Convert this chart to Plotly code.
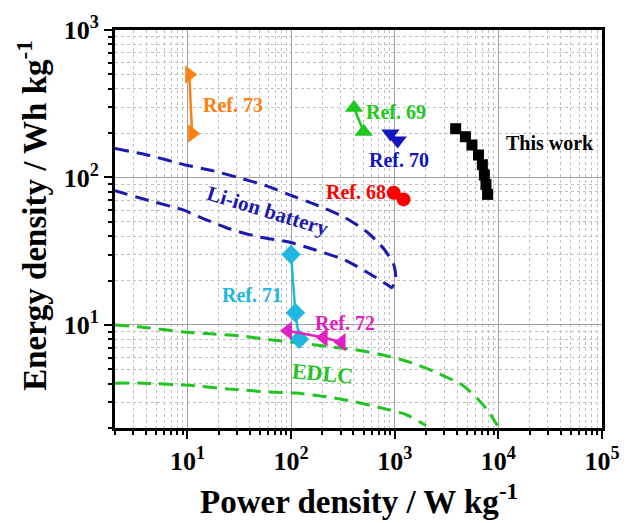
import plotly.graph_objects as go
import numpy as np

# ---------------- data ----------------
this_work_p = [3873, 4808, 5560, 6430, 7010, 7330, 7590, 7870]
this_work_e = [214, 189, 166, 142, 122, 104, 89.6, 76.8]

ref68_p = [979, 1216]
ref68_e = [78.7, 71]

ref69_p = [404, 502]
ref69_e = [297, 204]

ref70_p = [910, 1067]
ref70_e = [199, 178]

ref71_p = [100, 110, 120]
ref71_e = [30, 12.1, 8.0]

ref72_p = [93, 206, 307]
ref72_e = [9.12, 8.22, 7.62]

ref73_p = [10.4, 11.1]
ref73_e = [500, 199]

liion_p = [2.0, 4.29, 9.8, 16.8, 32.3, 58, 95.7, 172, 330, 545, 788, 980, 1021, 937,
           841, 594, 330, 172, 95.7, 49.9, 26, 14.8, 8.8, 4.29, 2.0]
liion_e = [157, 141, 121, 112, 99, 87.7, 76.4, 65.5, 53.6, 42.5, 32.7, 25.6, 20.6, 17.9,
           18.8, 21.9, 27.6, 32.2, 36.5, 39.4, 44.6, 52, 60.7, 69.6, 81.3]

edlc_up_p = [2.0, 4.29, 8.8, 16.8, 32.3, 62, 111, 228, 410, 738, 1416, 2490, 4480, 6470, 8050, 9790]
edlc_up_e = [10, 9.55, 8.98, 8.7, 8.44, 7.94, 7.59, 7.13, 6.8, 6.3, 5.57, 4.78, 3.91, 3.1, 2.58, 2.08]

edlc_lo_p = [2.0, 3.68, 9.6, 26, 62, 111, 228, 410, 738, 1297, 2004]
edlc_lo_e = [4.03, 4.03, 3.91, 3.67, 3.51, 3.45, 3.25, 3.01, 2.74, 2.46, 2.08]

x_ticks = [10, 100, 1000, 10000, 100000]
x_ticktext = ["10<sup>1</sup>", "10<sup>2</sup>", "10<sup>3</sup>", "10<sup>4</sup>", "10<sup>5</sup>"]
y_ticks = [10, 100, 1000]
y_ticktext = ["10<sup>1</sup>", "10<sup>2</sup>", "10<sup>3</sup>"]

# labels: (text, log10 x, log10 y, colour, angle)
labels = [
    ("Ref. 73", 1.443, 2.492, "#ff8010", 0),
    ("Ref. 69", 3.009, 2.445, "#1ec81e", 0),
    ("Ref. 70", 3.038, 2.117, "#1414c0", 0),
    ("Ref. 68", 2.623, 1.903, "#ff0000", 0),
    ("This work", 4.50, 2.231, "#000000", 0),
    ("Ref. 71", 1.623, 1.201, "#20b8e0", 0),
    ("Ref. 72", 2.519, 1.013, "#e020c0", 0),
    ("EDLC", 2.30, 0.672, "#22c422", 5),
    ("Li-ion battery", 1.78, 1.775, "#1a1ab0", 17),
]

FONT = "Liberation Serif"

fig = go.Figure()

fig.add_trace(go.Scatter(x=liion_p, y=liion_e, mode="lines",
                         line=dict(color="#1a1ab0", width=3, dash="14px,8px", shape="spline", smoothing=0.6)))
fig.add_trace(go.Scatter(x=edlc_up_p, y=edlc_up_e, mode="lines",
                         line=dict(color="#22c422", width=3, dash="14px,8px", shape="spline", smoothing=0.6)))
fig.add_trace(go.Scatter(x=edlc_lo_p, y=edlc_lo_e, mode="lines",
                         line=dict(color="#22c422", width=3, dash="14px,8px", shape="spline", smoothing=0.6)))

def series(xs, ys, color, symbol, size):
    fig.add_trace(go.Scatter(x=xs, y=ys, mode="lines+markers",
                             line=dict(color=color, width=2.5),
                             marker=dict(color=color, symbol=symbol, size=size, line=dict(width=0))))

series(ref73_p, ref73_e, "#ff8010", "triangle-right", 16)
series(ref69_p, ref69_e, "#1ec81e", "triangle-up", 16)
series(ref70_p, ref70_e, "#1414c0", "triangle-down", 16)
series(ref68_p, ref68_e, "#ff0000", "circle", 14)
series(this_work_p, this_work_e, "#000000", "square", 11)
series(ref71_p, ref71_e, "#20b8e0", "diamond", 15)
series(ref72_p, ref72_e, "#e020c0", "triangle-left", 16)

annotations = []
for text, lx, ly, col, ang in labels:
    annotations.append(dict(text=text, x=lx, y=ly, xref="x", yref="y", showarrow=False,
                            textangle=ang,
                            font=dict(family=FONT, size=20, color=col, weight="bold")))
annotations[-1]["font"]["size"] = 21
annotations[-2]["font"]["size"] = 22

annotations.append(dict(text="<b>Power density / W kg<sup>-1</sup></b>", x=0.50, y=-0.178,
                        xref="paper", yref="paper", showarrow=False, xanchor="center", yanchor="middle",
                        font=dict(family=FONT, size=33, color="black")))
annotations.append(dict(text="<b>Energy density / Wh kg<sup>-1</sup></b>", x=-0.171, y=0.535,
                        xref="paper", yref="paper", showarrow=False, xanchor="center", yanchor="middle",
                        textangle=-90,
                        font=dict(family=FONT, size=33, color="black")))

minor_vals = [k * 10 ** n for n in range(0, 5) for k in range(2, 10)]

axis_common = dict(
    type="log", showline=True, linecolor="black", linewidth=3, mirror=True,
    ticks="outside", ticklen=8, tickwidth=2, tickcolor="black",
    showgrid=True, gridcolor="#a0a0a0", gridwidth=1,
    tickfont=dict(family=FONT, size=26, color="black", weight="bold"),
    zeroline=False,
    minor=dict(tickmode="array", tickvals=minor_vals, ticks="outside", ticklen=4, tickwidth=2,
               tickcolor="black", showgrid=True, gridcolor="#c0c0c0", griddash="dot", gridwidth=1),
)

fig.update_xaxes(**axis_common, range=[np.log10(2), 5], tickmode="array",
                 tickvals=x_ticks, ticktext=x_ticktext)
fig.update_yaxes(**axis_common, range=[np.log10(2), 3], tickmode="array",
                 tickvals=y_ticks, ticktext=y_ticktext)

fig.update_layout(
    width=632, height=523,
    margin=dict(l=115, r=19, t=25, b=95),
    paper_bgcolor="white", plot_bgcolor="white",
    showlegend=False,
    annotations=annotations,
)

fig.write_html("out.html")
